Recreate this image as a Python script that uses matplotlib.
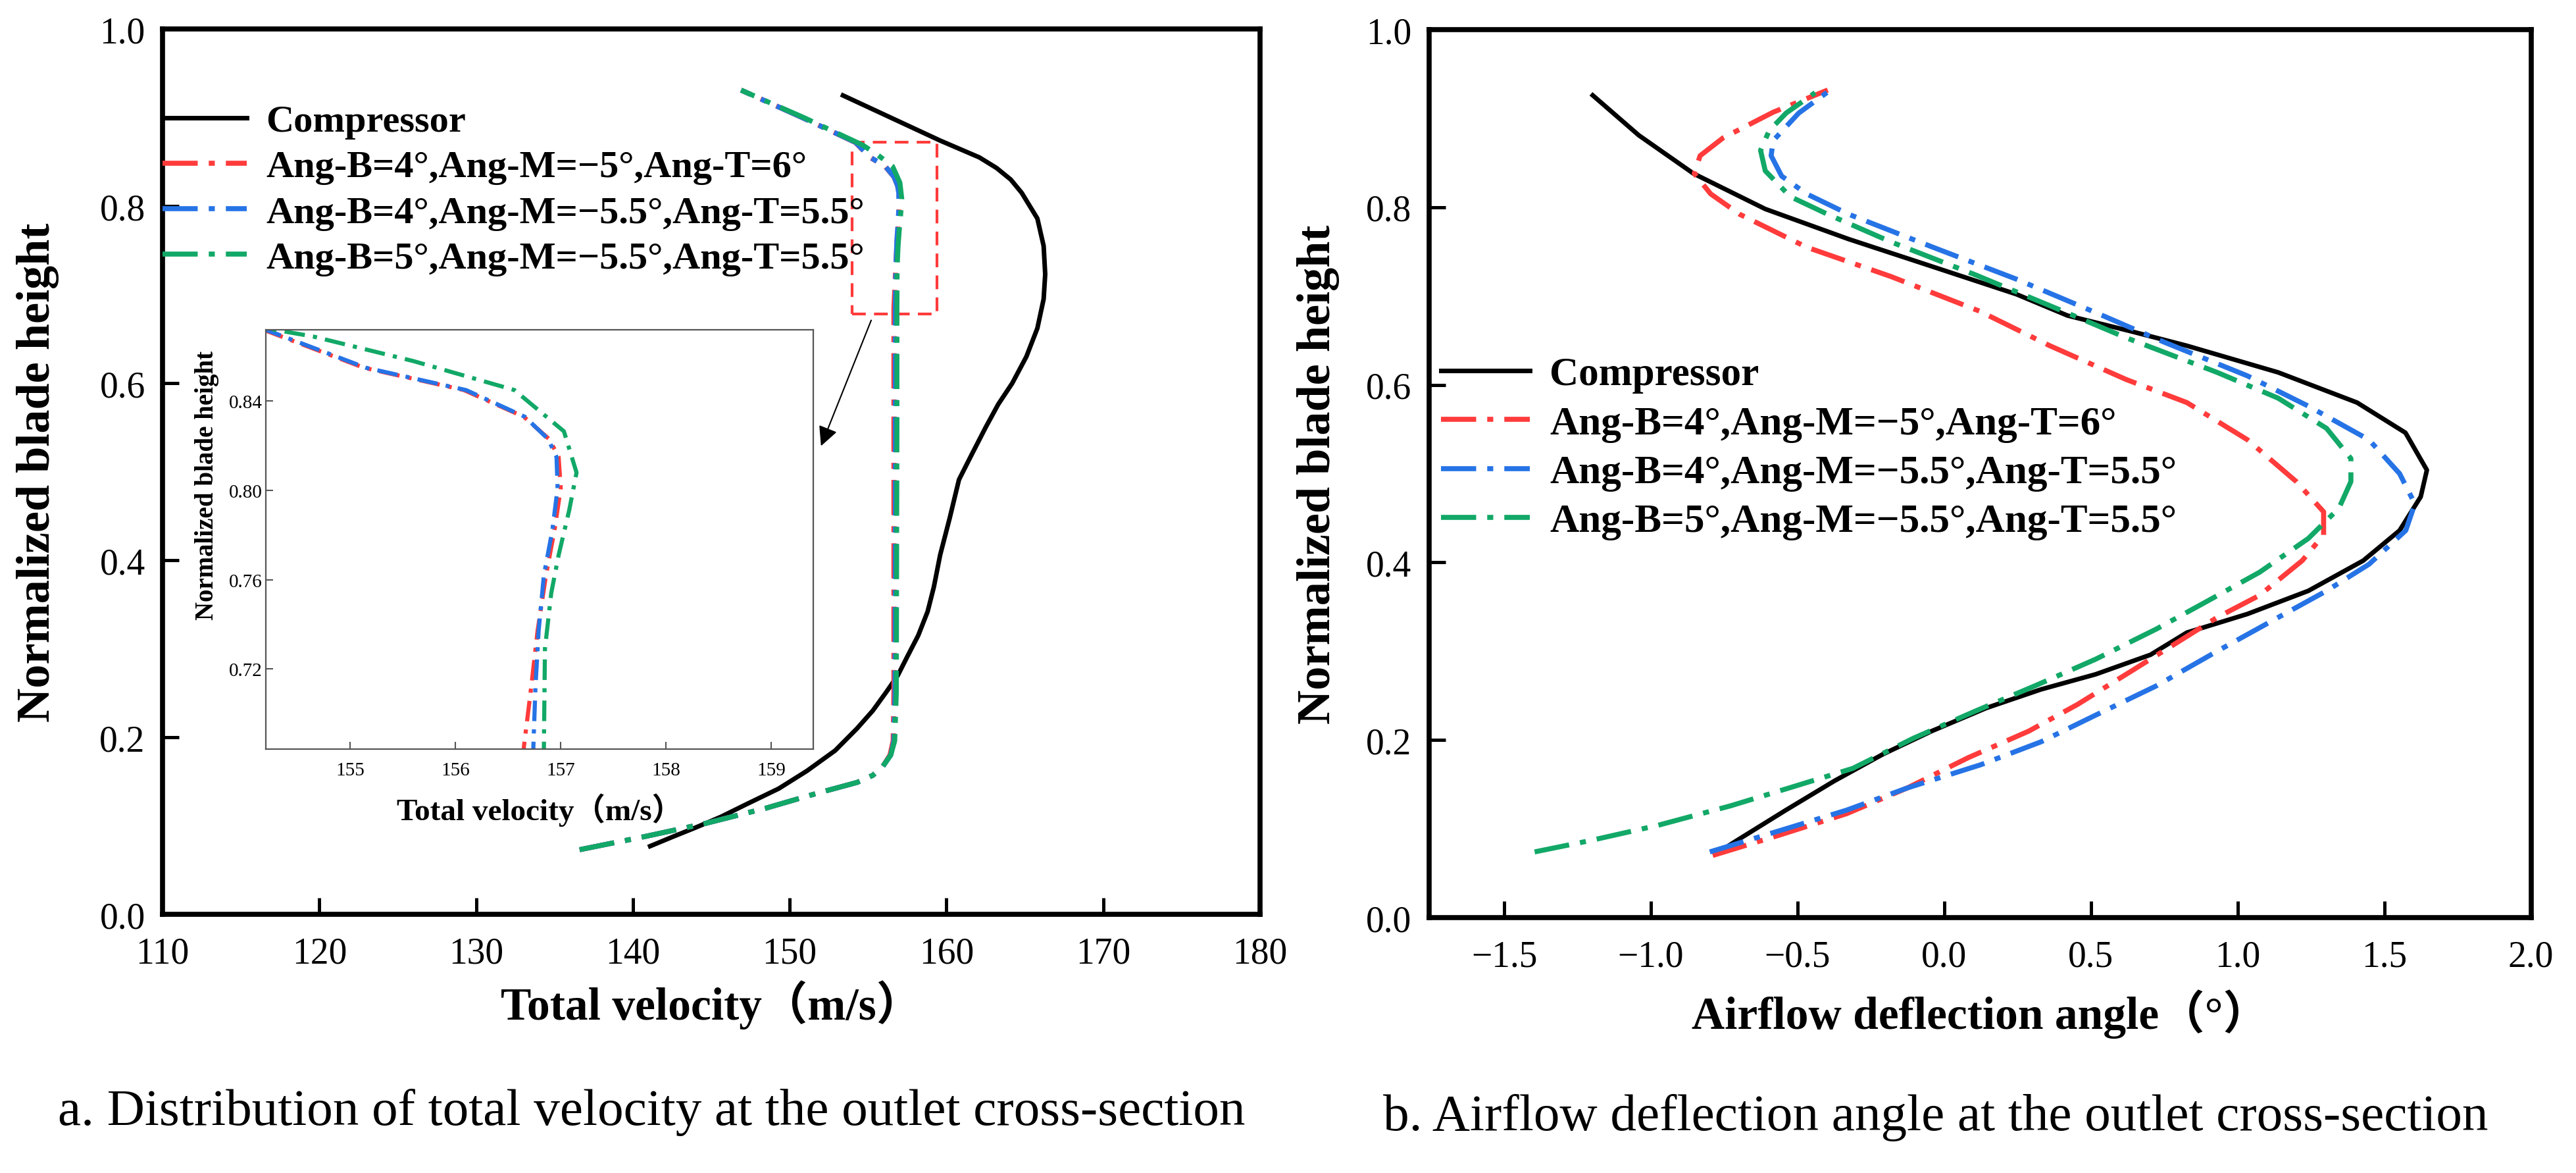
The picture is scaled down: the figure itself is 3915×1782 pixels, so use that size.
import matplotlib
matplotlib.use("Agg")
import matplotlib.pyplot as plt
from matplotlib.patches import Rectangle

# ---- data ----
labels = ["Compressor",
          "Ang-B=4°,Ang-M=−5°,Ang-T=6°",
          "Ang-B=4°,Ang-M=−5.5°,Ang-T=5.5°",
          "Ang-B=5°,Ang-M=−5.5°,Ang-T=5.5°"]
colors = ["black", "#FF3B3B", "#2673E6", "#12A867"]

# (a) total velocity vs normalized blade height
vel_comp_h = [0.077, 0.088, 0.098, 0.110, 0.124, 0.142, 0.162, 0.185, 0.210, 0.230, 0.252,
              0.270, 0.291, 0.315, 0.342, 0.370, 0.406, 0.447, 0.491, 0.519, 0.550, 0.576,
              0.600, 0.630, 0.662, 0.695, 0.723, 0.755, 0.786, 0.815, 0.830, 0.843, 0.855,
              0.874, 0.925]
vel_comp = [141.1, 142.6, 144.0, 145.6, 147.2, 149.3, 151.1, 152.9, 154.3, 155.3, 156.2,
            156.9, 157.5, 158.2, 158.8, 159.2, 159.6, 160.2, 160.8, 161.6, 162.5, 163.3,
            164.2, 165.1, 165.8, 166.2, 166.3, 166.2, 165.8, 164.8, 164.1, 163.2, 162.1,
            159.6, 153.4]

vel_red_h = [0.073, 0.088, 0.103, 0.120, 0.137, 0.149, 0.157, 0.166, 0.180, 0.196, 0.25,
             0.40, 0.55, 0.685, 0.712, 0.737, 0.762, 0.782, 0.801, 0.815, 0.823, 0.833,
             0.845, 0.855, 0.872, 0.90, 0.931]
vel_red = [136.6, 140.8, 144.7, 148.5, 151.8, 154.3, 155.3, 155.9, 156.4, 156.6, 156.65,
           156.65, 156.65, 156.65, 156.72, 156.78, 156.86, 156.94, 157.0, 156.98, 156.89,
           156.65, 156.08, 155.13, 154.18, 150.8, 146.9]

vel_blue_h = vel_red_h
vel_blue = [136.6, 140.8, 144.7, 148.5, 151.8, 154.3, 155.3, 155.9, 156.45, 156.65, 156.72,
            156.74, 156.74, 156.74, 156.76, 156.79, 156.84, 156.92, 156.97, 156.96, 156.88,
            156.66, 156.1, 155.15, 154.2, 150.8, 146.9]

vel_green_h = [0.073, 0.088, 0.103, 0.120, 0.137, 0.149, 0.157, 0.166, 0.180, 0.196, 0.25,
               0.40, 0.55, 0.685, 0.729, 0.754, 0.771, 0.791, 0.808, 0.8265, 0.845, 0.858,
               0.869, 0.90, 0.931]
vel_green = [136.6, 140.8, 144.7, 148.5, 151.8, 154.3, 155.3, 155.9, 156.45, 156.7, 156.8,
             156.82, 156.84, 156.84, 156.85, 156.91, 156.98, 157.08, 157.15, 157.03, 156.56,
             155.6, 154.65, 150.9, 146.9]

# (b) airflow deflection angle vs normalized blade height
ang_comp_h = [0.074, 0.087, 0.121, 0.154, 0.184, 0.210, 0.236, 0.257, 0.274, 0.296, 0.321,
              0.342, 0.368, 0.402, 0.436, 0.474, 0.504, 0.546, 0.580, 0.614, 0.644, 0.660,
              0.678, 0.702, 0.733, 0.764, 0.798, 0.838, 0.881, 0.926]
ang_comp = [-0.768, -0.706, -0.540, -0.374, -0.209, -0.043, 0.143, 0.330, 0.516, 0.703,
            0.827, 1.034, 1.241, 1.428, 1.552, 1.624, 1.645, 1.572, 1.407, 1.138, 0.827,
            0.640, 0.420, 0.246, -0.039, -0.325, -0.610, -0.855, -1.041, -1.198]

ang_red_h = [0.070, 0.093, 0.117, 0.146, 0.180, 0.210, 0.240, 0.274, 0.308, 0.338, 0.363,
             0.402, 0.431, 0.457, 0.491, 0.538, 0.580, 0.606, 0.644, 0.683, 0.722, 0.755,
             0.792, 0.815, 0.838, 0.858, 0.878, 0.907, 0.932]
ang_red = [-0.789, -0.561, -0.333, -0.126, 0.081, 0.288, 0.454, 0.620, 0.785, 0.930, 1.075,
           1.220, 1.293, 1.293, 1.200, 1.034, 0.827, 0.620, 0.360, 0.120, -0.182, -0.469,
           -0.697, -0.796, -0.852, -0.832, -0.754, -0.583, -0.397]

ang_blue_h = [0.074, 0.100, 0.121, 0.146, 0.172, 0.198, 0.228, 0.261, 0.300, 0.338, 0.368,
              0.398, 0.436, 0.466, 0.500, 0.538, 0.576, 0.610, 0.648, 0.679, 0.719, 0.755,
              0.792, 0.815, 0.835, 0.858, 0.875, 0.906, 0.932]
ang_blue = [-0.799, -0.540, -0.333, -0.126, 0.123, 0.330, 0.516, 0.723, 0.930, 1.138, 1.303,
            1.448, 1.573, 1.604, 1.552, 1.448, 1.241, 1.034, 0.750, 0.533, 0.246, -0.039,
            -0.325, -0.469, -0.554, -0.590, -0.583, -0.496, -0.388]

ang_green_h = [0.074, 0.087, 0.104, 0.126, 0.147, 0.168, 0.202, 0.232, 0.261, 0.291, 0.325,
               0.355, 0.389, 0.427, 0.461, 0.491, 0.517, 0.551, 0.585, 0.614, 0.653, 0.685,
               0.724, 0.761, 0.792, 0.812, 0.841, 0.864, 0.886, 0.906, 0.929]
ang_green = [-1.396, -1.203, -0.975, -0.727, -0.519, -0.312, -0.105, 0.102, 0.309, 0.516,
             0.723, 0.889, 1.075, 1.241, 1.345, 1.386, 1.386, 1.303, 1.138, 0.930, 0.620,
             0.390, 0.105, -0.182, -0.397, -0.525, -0.610, -0.626, -0.597, -0.539, -0.440]

vel_ticks = [110, 120, 130, 140, 150, 160, 170, 180]
ang_ticks = [-1.5, -1.0, -0.5, 0.0, 0.5, 1.0, 1.5, 2.0]
h_ticks = [0.0, 0.2, 0.4, 0.6, 0.8, 1.0]
inset_vel_ticks = [155, 156, 157, 158, 159]
inset_h_ticks = [0.72, 0.76, 0.80, 0.84]

# ---- style ----
SERIF = ["Liberation Serif", "Noto Sans CJK SC", "DejaVu Serif"]
plt.rcParams["font.family"] = SERIF
DASHDOT = (0, (7, 2.2, 1.2, 2.2))

fig = plt.figure(figsize=(39.16, 17.83), dpi=100)
ax1 = fig.add_axes([0.0631, 0.2204, 0.4259, 0.7543])
ax2 = fig.add_axes([0.5546, 0.2176, 0.4277, 0.7566])


def style_main(ax):
    for s in ax.spines.values():
        s.set_linewidth(5.5)
    ax.tick_params(direction="in", length=18, width=3.6, labelsize=40,
                   top=False, right=False)
    ax.tick_params(axis="y", pad=19)
    ax.tick_params(axis="x", pad=24)
    ax.set_ylim(0, 1)
    ax.set_yticks(h_ticks)
    ax.set_yticklabels([f"{t:.1f}" for t in h_ticks])


# panel a
vel_x = [vel_comp, vel_red, vel_blue, vel_green]
vel_y = [vel_comp_h, vel_red_h, vel_blue_h, vel_green_h]
for i in range(4):
    if i == 0:
        ax1.plot(vel_x[i], vel_y[i], color=colors[i], lw=5, label=labels[i])
    else:
        ax1.plot(vel_x[i], vel_y[i], color=colors[i], lw=5.5, ls=DASHDOT, label=labels[i])
style_main(ax1)
ax1.set_xlim(110, 180)
ax1.set_xticks(vel_ticks)
ax1.set_xlabel("Total velocity（m/s）", fontsize=50, fontweight="bold")
ax1.set_ylabel("Normalized blade height", fontsize=52, fontweight="bold")
ax1.xaxis.set_label_coords(0.5, -0.074)
ax1.yaxis.set_label_coords(-0.094, 0.5)
ax1.legend(loc="upper left", bbox_to_anchor=(0.0, 0.915), frameon=False,
           prop={"family": SERIF, "weight": "bold", "size": 42},
           handlelength=2.2, handletextpad=0.5, labelspacing=0.28,
           borderpad=0, borderaxespad=0)

# zoom box and arrow
ax1.add_patch(Rectangle((154.0, 0.678), 5.4, 0.194, fill=False, ec="#FF3B3B",
                        lw=3, ls=(0, (5, 3))))
ax1.annotate("", xy=(152.0, 0.529), xytext=(155.2, 0.671),
             arrowprops=dict(arrowstyle="-|>", color="black", lw=1.5,
                             mutation_scale=45, shrinkA=0, shrinkB=0))

# inset
axi = fig.add_axes([0.1032, 0.3612, 0.2125, 0.3572])
for i in range(1, 4):
    axi.plot(vel_x[i], vel_y[i], color=colors[i], lw=4.5, ls=(0, (5, 2, 1, 2)))
axi.set_xlim(154.2, 159.4)
axi.set_ylim(0.684, 0.872)
axi.set_xticks(inset_vel_ticks)
axi.set_yticks(inset_h_ticks)
axi.set_yticklabels([f"{t:.2f}" for t in inset_h_ticks])
for s in axi.spines.values():
    s.set_linewidth(1.6)
    s.set_color("#555555")
axi.tick_params(direction="in", length=8, width=1.5, color="#555555", labelsize=21,
                top=False, right=False)
axi.tick_params(axis="y", pad=4)
axi.tick_params(axis="x", pad=14)
axi.set_xlabel("Total velocity（m/s）", fontsize=34, fontweight="bold")
axi.set_ylabel("Normalized blade height", fontsize=28, fontweight="bold")
axi.xaxis.set_label_coords(0.5, -0.105)
axi.yaxis.set_label_coords(-0.085, 0.63)

# panel b
ang_x = [ang_comp, ang_red, ang_blue, ang_green]
ang_y = [ang_comp_h, ang_red_h, ang_blue_h, ang_green_h]
for i in range(4):
    if i == 0:
        ax2.plot(ang_x[i], ang_y[i], color=colors[i], lw=5, label=labels[i])
    else:
        ax2.plot(ang_x[i], ang_y[i], color=colors[i], lw=5.5, ls=DASHDOT, label=labels[i])
style_main(ax2)
ax2.set_xlim(-1.756, 2.0)
ax2.set_xticks(ang_ticks)
ax2.set_xticklabels([f"{t:.1f}".replace("-", "−") for t in ang_ticks])
ax2.set_xlabel("Airflow deflection angle（°）", fontsize=50, fontweight="bold")
ax2.set_ylabel("Normalized blade height", fontsize=52, fontweight="bold")
ax2.xaxis.set_label_coords(0.5, -0.08)
ax2.yaxis.set_label_coords(-0.081, 0.5)
ax2.legend(loc="upper left", bbox_to_anchor=(0.011, 0.632), frameon=False,
           prop={"family": SERIF, "weight": "bold", "size": 44},
           handlelength=2.2, handletextpad=0.5, labelspacing=0.3,
           borderpad=0, borderaxespad=0)

# captions
fig.text(0.2528, 1 - 1690 / 1783, "a. Distribution of total velocity at the outlet cross-section",
         ha="center", va="center", fontsize=57)
fig.text(0.7513, 1 - 1698 / 1783, "b. Airflow deflection angle at the outlet cross-section",
         ha="center", va="center", fontsize=57)

fig.savefig("out.png", dpi=100)
